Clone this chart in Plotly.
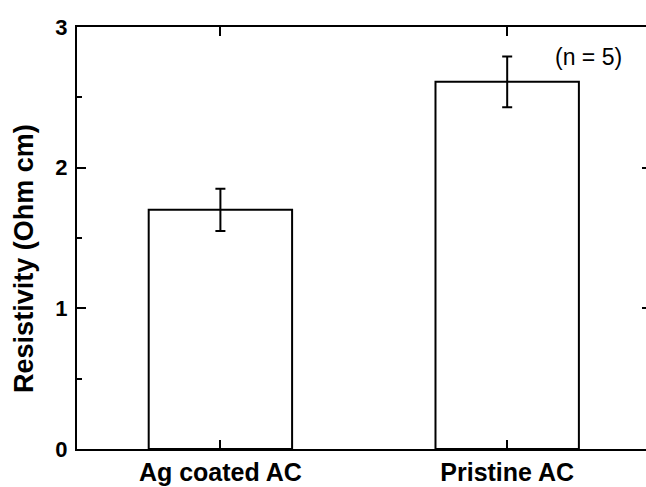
import plotly.graph_objects as go

categories = ["Ag coated AC", "Pristine AC"]
resistivity = [1.70, 2.61]
errors = [0.15, 0.18]
y_ticks = [0, 1, 2, 3]
y_title = "Resistivity (Ohm cm)"
note = "(n = 5)"

FONT = "Liberation Sans, Arial, sans-serif"

fig = go.Figure()
fig.add_trace(go.Bar(
    x=categories, y=resistivity, width=0.5,
    marker=dict(color="white", line=dict(color="black", width=2)),
    error_y=dict(type="data", array=errors, visible=True,
                 color="black", thickness=2, width=5),
    showlegend=False,
))
fig.add_trace(go.Scatter(
    x=categories, y=resistivity, yaxis="y2", mode="markers",
    marker=dict(opacity=0), hoverinfo="skip", showlegend=False,
))

fig.update_layout(
    width=646, height=487,
    margin=dict(l=77, r=0, t=27, b=38),
    plot_bgcolor="white", paper_bgcolor="white",
    xaxis=dict(
        range=[-0.5, 1.484], showline=True, linecolor="black", linewidth=2,
        mirror="ticks", ticks="inside", ticklen=9, tickwidth=2, tickcolor="black",
        showgrid=False, zeroline=False,
        tickfont=dict(family=FONT, size=25, color="black", weight="bold"),
    ),
    yaxis=dict(
        range=[0, 3], tickvals=y_ticks, showline=True, linecolor="black", linewidth=2,
        mirror=False, ticks="inside", ticklen=9, tickwidth=2, tickcolor="black",
        showgrid=False, zeroline=False, ticklabelstandoff=3,
        minor=dict(dtick=0.5, ticks="inside", ticklen=5, tickwidth=2, tickcolor="black", showgrid=False),
        tickfont=dict(family=FONT, size=22, color="black", weight="bold"),
    ),
    yaxis2=dict(
        range=[0, 3], tickvals=y_ticks, overlaying="y", side="right",
        showline=False, ticks="inside", ticklen=4, tickwidth=2, tickcolor="black",
        showticklabels=False, showgrid=False, zeroline=False,
    ),
    annotations=[
        dict(x=1.283, y=2.785, xref="x", yref="y", text=note, showarrow=False,
             font=dict(family=FONT, size=23, color="black")),
        dict(x=-0.0945, y=0.451, xref="paper", yref="paper", text=y_title,
             textangle=-90, showarrow=False, xanchor="center", yanchor="middle",
             font=dict(family=FONT, size=27, color="black", weight="bold")),
    ],
)

fig.write_html("out.html")
